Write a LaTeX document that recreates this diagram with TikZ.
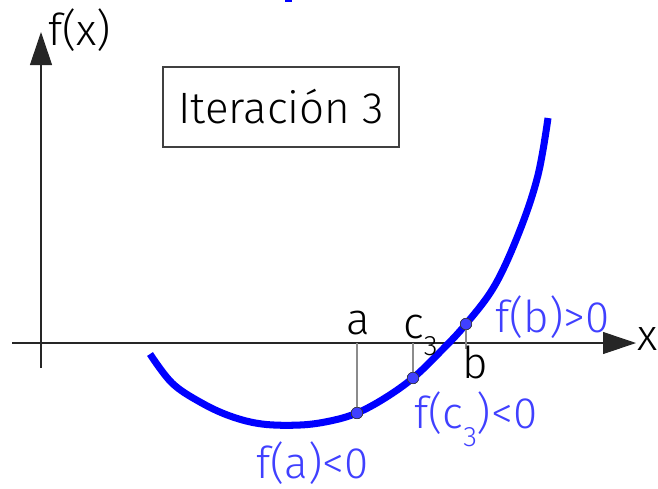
\documentclass[tikz,border=0pt]{standalone}
\usepackage{fontspec}
\setmainfont{Fira Sans}[UprightFont=* Light]
\usetikzlibrary{arrows.meta}

\begin{document}
\begin{tikzpicture}[x=0.02cm, y=-0.02cm,
  axis/.style={-{Triangle[length=0.66cm, width=0.44cm]}, line width=0.6pt, black!85},
  guide/.style={gray!90, line width=0.6pt},
  curva/.style={blue, line width=4pt},
  punto/.style={circle, draw=black!80, fill=blue!75!white, inner sep=0pt,
                minimum size=0.23cm, line width=0.3pt},
  lbl/.style={anchor=base west, inner sep=0pt, font=\fontsize{25}{29}\selectfont},
  blbl/.style={lbl, text=blue!75!white},
  itbox/.style={rectangle, draw=black!75, line width=0.6pt, minimum width=4.72cm,
                minimum height=1.6cm, font=\fontsize{25}{29}\selectfont}]

  \useasboundingbox (0,0) rectangle (658,488);
  \fill[blue] (285,0) rectangle (292,2);

  % axes
  \coordinate (xini) at (12,343);
  \coordinate (xfin) at (636,343);
  \coordinate (yini) at (41,368);
  \coordinate (yfin) at (41,32);
  \draw[axis] (xini) -- (xfin);
  \draw[axis] (yini) -- (yfin);
  \node[lbl] (fx) at (48,45) {f(x)};
  \node[lbl] (xlab) at (637,350) {x};

  \node[itbox] (iter) at (281,107) {Iteración 3};

  % function
  \draw[curva] plot[smooth, tension=0.6] coordinates {
    (150,354) (172,383) (200,402) (230,416) (262,424) (300,425) (330,421)
    (357,413) (385,398) (413,378) (440,352) (466,324) (495,285) (520,230)
    (538,175) (548,118)};

  \node[punto] (pa) at (357,413) {};
  \node[punto] (pc) at (413,378) {};
  \node[punto] (pb) at (466,324) {};

  \draw[guide] (pa.center) -- (pa |- xini);
  \draw[guide] (pc.center) -- (pc |- xini);
  \draw[guide] (pb.center) -- ([yshift=-0.12cm]pb |- xini);
  \node[punto] at (pa) {};
  \node[punto] at (pc) {};
  \node[punto] at (pb) {};

  \node[lbl] (la) at (346,334) {a};
  \node[lbl] (lc) at (403,338) {c\raisebox{-0.4em}{\fontsize{16}{16}\selectfont 3}};
  \node[lbl] (lb) at (462,378) {b};

  \node[blbl] (fb) at (495,332) {f(b)>0};
  \node[blbl] (fc) at (414,428) {f(c\raisebox{-0.42em}{\fontsize{16}{16}\selectfont 3})<0};
  \node[blbl] (fa) at (256,478) {f(a)<0};

\end{tikzpicture}
\end{document}
